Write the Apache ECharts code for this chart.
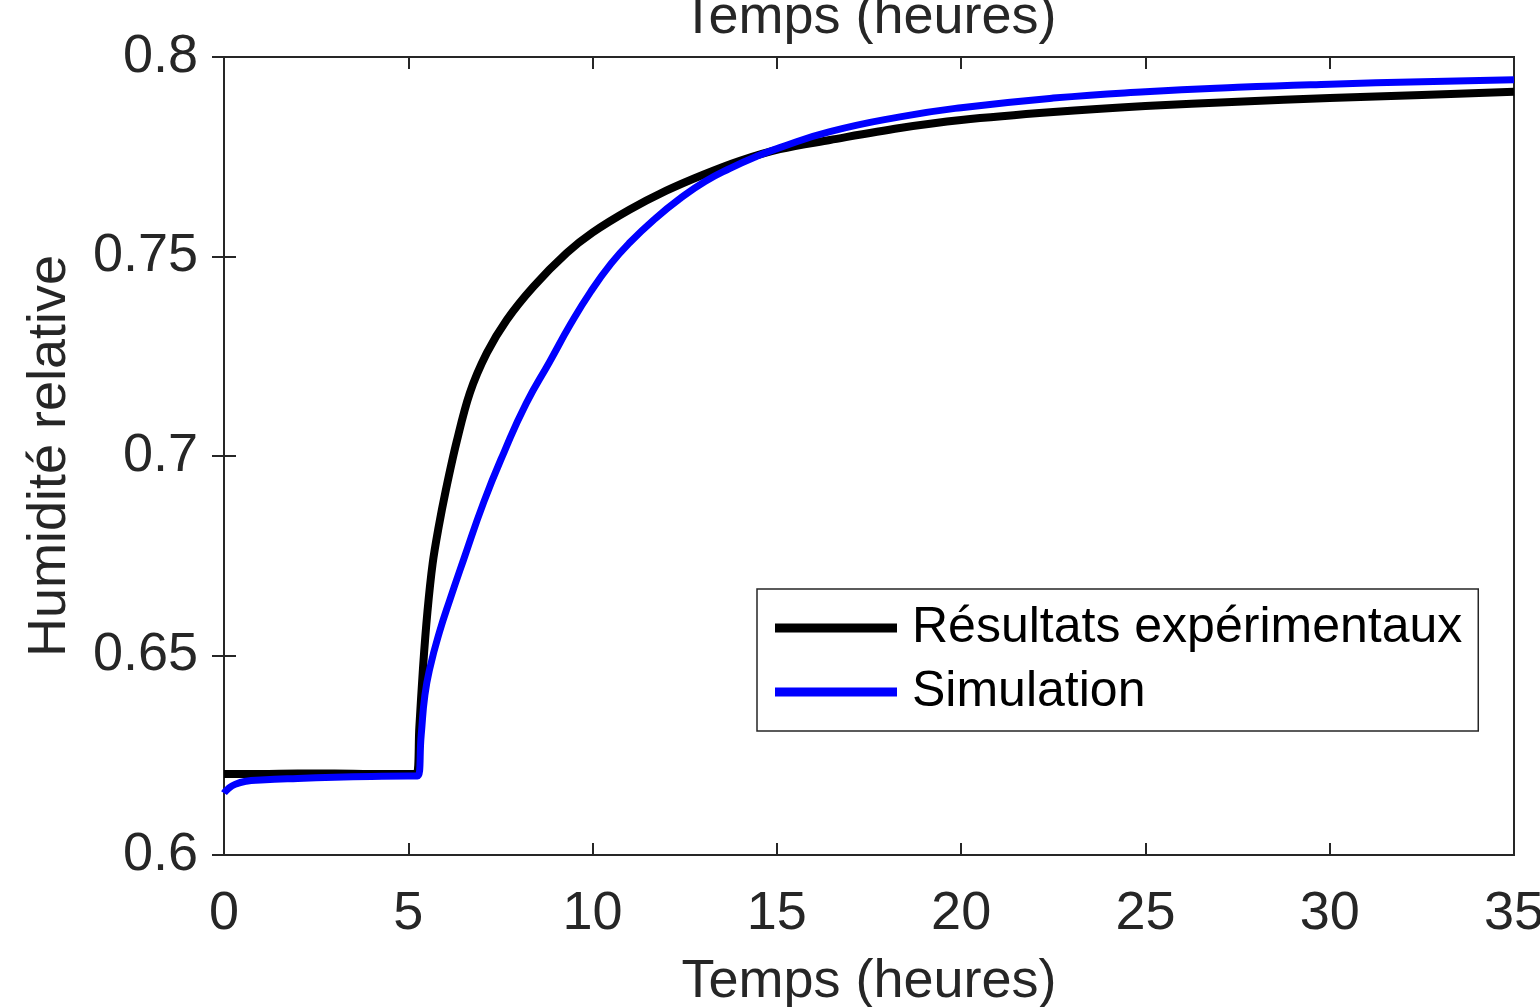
<!DOCTYPE html>
<html>
<head>
<meta charset="utf-8">
<script src="https://cdn.jsdelivr.net/npm/echarts@6/dist/echarts.min.js"></script>
<style>
  html, body { margin: 0; padding: 0; background: #fff; }
  #chart { width: 1540px; height: 1007px; }
</style>
</head>
<body>
<div id="chart"></div>
<script>
    // Résultats expérimentaux (heures, humidité relative)
    var timeExp = [0, 1, 2, 3, 4, 5, 5.22, 5.3, 5.4, 5.52, 5.66, 5.82, 6.02, 6.31, 6.67, 7.13, 7.67, 8.39,
        9.3, 10, 11, 12, 13, 14, 15.08, 16.44, 18.34, 20, 22.5, 25, 27.5, 30, 32.5, 35];
    var rhExp = [0.6203, 0.6203, 0.6204, 0.6204, 0.6203, 0.6203, 0.6203, 0.632, 0.647, 0.661, 0.673, 0.682, 0.6915, 0.7035, 0.7158, 0.7258, 0.7341, 0.7424,
        0.7509, 0.756, 0.7617, 0.7665, 0.7705, 0.774, 0.7769, 0.7792, 0.7822, 0.7842, 0.7862, 0.7877, 0.7888, 0.7897, 0.7905, 0.7913];

    // Simulation
    var timeSim = [0, 0.1, 0.3, 0.6, 1, 2, 3, 4, 5, 5.25, 5.35, 5.45, 5.59, 5.85, 6.13, 6.5, 7.05, 7.6, 8.2,
        8.84, 9.4, 9.95, 10.5, 11.01, 11.7, 12.37, 13.05, 13.73, 14.4, 15.08, 16.44, 18.34, 20, 22.5, 25, 27.5, 30, 32.5, 35];
    var rhSim = [0.6155, 0.6165, 0.6177, 0.6185, 0.6188, 0.6192, 0.6195, 0.6197, 0.6198, 0.6198, 0.630, 0.640, 0.647, 0.656, 0.664, 0.674, 0.6885, 0.701, 0.7132,
        0.7237, 0.733, 0.7412, 0.7482, 0.7535, 0.7595, 0.7645, 0.7688, 0.7721, 0.7749, 0.7773, 0.7813, 0.785, 0.7873, 0.7897, 0.7913, 0.7924, 0.7932, 0.7938, 0.7943];

    var seriesNames = ["Résultats expérimentaux", "Simulation"];
    var xTitle = "Temps (heures)";
    var yTitle = "Humidité relative";

    function pairs(xs, ys) {
        return xs.map(function (x, i) { return [x, ys[i]]; });
    }

    var font = "'Liberation Sans', Arial, sans-serif";
    var ink = "#262626";
    var tick = { show: true, inside: true, length: 12, lineStyle: { color: ink, width: 2 } };

    var dom = echarts.init(document.getElementById("chart"));
    var option = {
        animation: false,
        backgroundColor: "#fff",
        textStyle: { fontFamily: font },
        grid: {
            left: 224, right: 26, top: 57, bottom: 152,
            outerBoundsMode: "none",
            show: true, borderColor: ink, borderWidth: 2
        },
        legend: {
            orient: "vertical",
            left: 757, top: 589,
            padding: [14, 16, 14, 18],
            itemGap: 14,
            itemWidth: 122, itemHeight: 9,
            icon: "rect",
            borderColor: ink, borderWidth: 1.5,
            backgroundColor: "#fff",
            textStyle: { fontSize: 50, color: "#000", fontFamily: font, padding: [0, 0, 0, 10] },
            data: seriesNames
        },
        xAxis: [{
            type: "value", position: "bottom", min: 0, max: 35, interval: 5,
            name: xTitle, nameLocation: "middle", nameGap: 100,
            nameTextStyle: { fontSize: 54, color: ink },
            axisLine: { show: false },
            axisTick: tick,
            axisLabel: { fontSize: 54, color: ink, margin: 32 },
            splitLine: { show: false }
        }, {
            type: "value", position: "top", min: 0, max: 35, interval: 5,
            name: xTitle, nameLocation: "middle", nameGap: 12,
            nameTextStyle: { fontSize: 54, color: ink },
            axisLine: { show: false },
            axisTick: tick,
            axisLabel: { show: false },
            splitLine: { show: false }
        }],
        yAxis: [{
            type: "value", position: "left", min: 0.6, max: 0.8, interval: 0.05,
            name: yTitle, nameLocation: "middle", nameGap: 147,
            nameTextStyle: { fontSize: 54, color: ink },
            axisLine: { show: false },
            axisTick: tick,
            axisLabel: { fontSize: 54, color: ink, margin: 26 },
            splitLine: { show: false }
        }, {
            type: "value", position: "right", min: 0.6, max: 0.8, interval: 0.05,
            axisLine: { show: false },
            axisTick: tick,
            axisLabel: { show: false },
            splitLine: { show: false }
        }],
        series: [{
            name: seriesNames[0],
            type: "line",
            data: pairs(timeExp, rhExp),
            showSymbol: false,
            smooth: 0.35,
            color: "#000",
            lineStyle: { color: "#000", width: 8 }
        }, {
            name: seriesNames[1],
            type: "line",
            data: pairs(timeSim, rhSim),
            showSymbol: false,
            smooth: 0.5,
            color: "#0000ff",
            lineStyle: { color: "#0000ff", width: 7 }
        }]
    };
    dom.setOption(option, true);
</script>
</body>
</html>
